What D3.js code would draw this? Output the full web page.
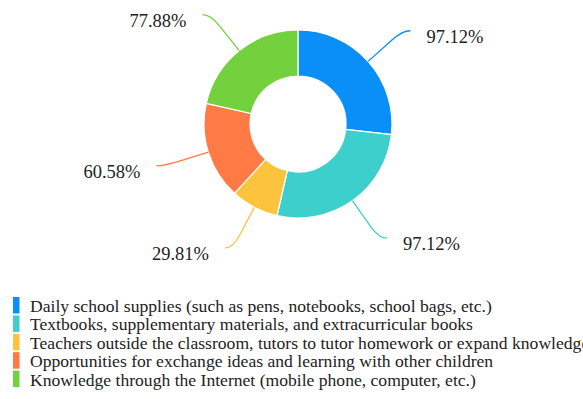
<!DOCTYPE html>
<html>
<head>
<meta charset="utf-8">
<script src="https://cdn.jsdelivr.net/npm/d3@7"></script>
<style>
  html, body { margin: 0; padding: 0; background: #ffffff; }
  svg { display: block; }
  text { font-family: "Liberation Serif", "Times New Roman", serif; fill: #222; }
</style>
</head>
<body>
<svg id="chart" width="583" height="399"></svg>
<script>
// Survey shares (percent of respondents choosing each resource)
const categories = [
  "Daily school supplies (such as pens, notebooks, school bags, etc.)",
  "Textbooks, supplementary materials, and extracurricular books",
  "Teachers outside the classroom, tutors to tutor homework or expand knowledge",
  "Opportunities for exchange ideas and learning with other children",
  "Knowledge through the Internet (mobile phone, computer, etc.)"
];
const values = [97.12, 97.12, 29.81, 60.58, 77.88];
const colors = ["#0a8ef7", "#3ccfcc", "#fcc43d", "#ff7a45", "#73d13d"];

const W = 583, H = 399;
const cx = 298, cy = 124;
const outerR = 94, innerR = 48;

const svg = d3.select("#chart");

const pie = d3.pie().sort(null).value(d => d.value).startAngle(0).endAngle(2 * Math.PI);
const arcs = pie(values.map((v, i) => ({ value: v, name: categories[i], color: colors[i] })));

const arc = d3.arc().innerRadius(innerR).outerRadius(outerR);

const g = svg.append("g").attr("transform", `translate(${cx},${cy})`);

g.selectAll("path.slice")
  .data(arcs)
  .join("path")
  .attr("class", "slice")
  .attr("d", arc)
  .attr("fill", d => d.data.color)
  .attr("stroke", "#ffffff")
  .attr("stroke-width", 1.2);

// Leader lines: radial segment from the rim, bending into a short horizontal tail
const L1 = 46, L2 = 8, bend = 14, gap = 16, dyText = 6;

arcs.forEach(d => {
  const mid = (d.startAngle + d.endAngle) / 2;
  const dx = Math.sin(mid), dy = -Math.cos(mid);
  const side = dx >= 0 ? 1 : -1;
  const p0 = [outerR * dx, outerR * dy];
  const p1 = [(outerR + L1) * dx, (outerR + L1) * dy];
  const a = [p1[0] - bend * dx, p1[1] - bend * dy];
  const p2 = [p1[0] + side * L2, p1[1]];
  const path = d3.path();
  path.moveTo(p0[0], p0[1]);
  path.lineTo(a[0], a[1]);
  path.quadraticCurveTo(p1[0], p1[1], p2[0], p2[1]);
  g.append("path")
    .attr("d", path.toString())
    .attr("fill", "none")
    .attr("stroke", d.data.color)
    .attr("stroke-width", 1.3);

  g.append("text")
    .attr("x", p2[0] + side * gap)
    .attr("y", p2[1] + dyText)
    .attr("text-anchor", side > 0 ? "start" : "end")
    .attr("dominant-baseline", "central")
    .attr("font-size", 18.5)
    .text(d3.format(".2f")(d.data.value) + "%");
});

// Legend
const legendY = d3.scalePoint()
  .domain(d3.range(categories.length))
  .range([305.5, 305.5 + 18.4 * (categories.length - 1)]);

const legend = svg.append("g");
const rows = legend.selectAll("g.row")
  .data(categories)
  .join("g")
  .attr("class", "row")
  .attr("transform", (d, i) => `translate(0,${legendY(i)})`);

rows.append("rect")
  .attr("x", 13)
  .attr("y", -8.5)
  .attr("width", 6.5)
  .attr("height", 16.5)
  .attr("fill", (d, i) => colors[i]);

rows.append("text")
  .attr("x", 30)
  .attr("y", 0.5)
  .attr("dominant-baseline", "central")
  .attr("font-size", 17.6)
  .text(d => d);
</script>
</body>
</html>
